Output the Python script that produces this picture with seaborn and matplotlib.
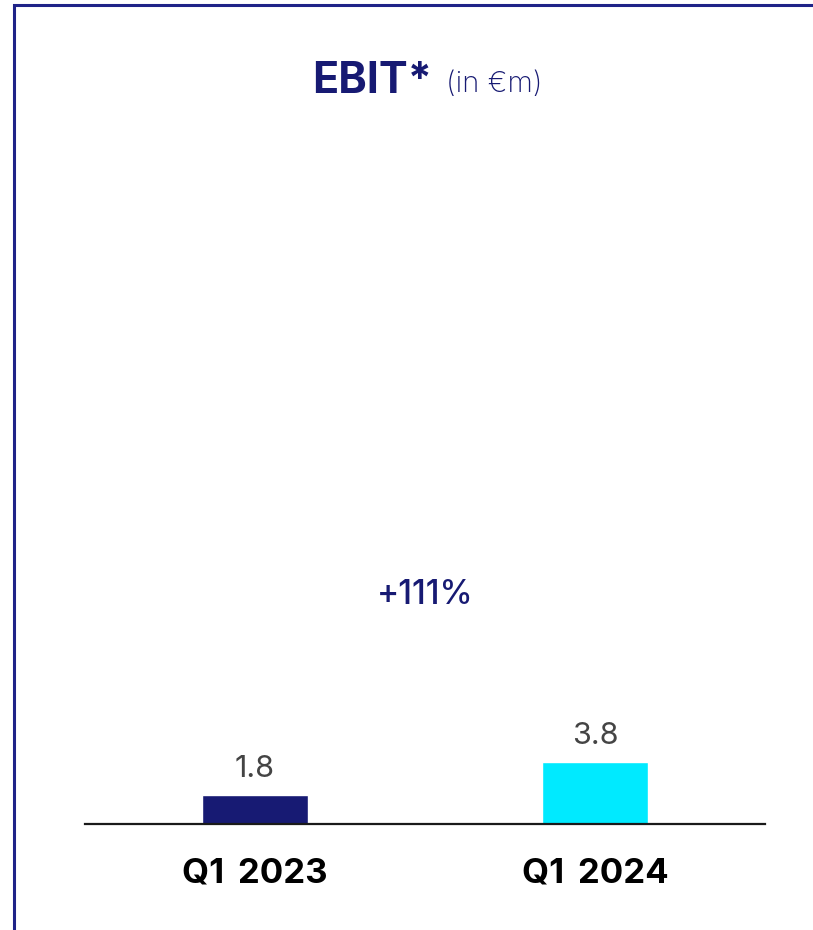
import matplotlib
matplotlib.use("Agg")
import matplotlib.pyplot as plt
import seaborn as sns
import pandas as pd
from matplotlib.patches import Rectangle

categories = ["Q1 2023", "Q1 2024"]
values = [1.8, 3.8]
value_labels = ["1.8", "3.8"]
colors = ["#171a73", "#00eaff"]
change_label = "+111%"
title_main = "EBIT*"
title_unit = "(in €m)"

sns.set_theme(style="white")
plt.rcParams["font.family"] = ["Inter", "DejaVu Sans"]

fig = plt.figure(figsize=(8.13, 9.30), dpi=100)
ax = fig.add_axes([85/813, 106/930, 680/813, 684/930])

df = pd.DataFrame({"cat": categories, "val": values})
sns.barplot(data=df, x="cat", y="val", hue="cat", palette=colors, width=0.314,
            legend=False, ax=ax, saturation=1)

ax.set_xlim(-0.5, 1.5)
ax.set_ylim(0, 684/16.3)
ax.set_xlabel("")
ax.set_ylabel("")
ax.set_yticks([])
for s in ["top", "right", "left"]:
    ax.spines[s].set_visible(False)
ax.spines["bottom"].set_color("#1a1a1a")
ax.spines["bottom"].set_linewidth(1.6)
ax.tick_params(axis="x", length=0, pad=24)
ax.set_xticks(range(len(categories)))
ax.set_xticklabels([c.replace(" ", "\u2009 ") for c in categories], fontsize=25,
                   fontweight="bold", color="#000000")

for i, (v, lab) in enumerate(zip(values, value_labels)):
    ax.annotate(lab, xy=(i, v), xytext=(0, 13), textcoords="offset points",
                ha="center", va="baseline", fontsize=22, color="#444444",
                fontweight="normal")

ax.text(0.5, 14.05, change_label, ha="center", va="center", fontsize=24,
        color="#171a73", fontweight="medium")

fig.text(432/813, 1 - 81/930, title_main, ha="right", va="center", fontsize=31,
         fontweight="bold", color="#171a73")
fig.text(446/813, 1 - 85/930, title_unit, ha="left", va="center", fontsize=21,
         fontweight="light", color="#171a73")

fig.patches.append(Rectangle((14/813, -0.1), 1.2, (930-5)/930 + 0.1, transform=fig.transFigure,
                             fill=False, edgecolor="#1f2388", linewidth=2.2))

fig.savefig("out.png", dpi=100)
